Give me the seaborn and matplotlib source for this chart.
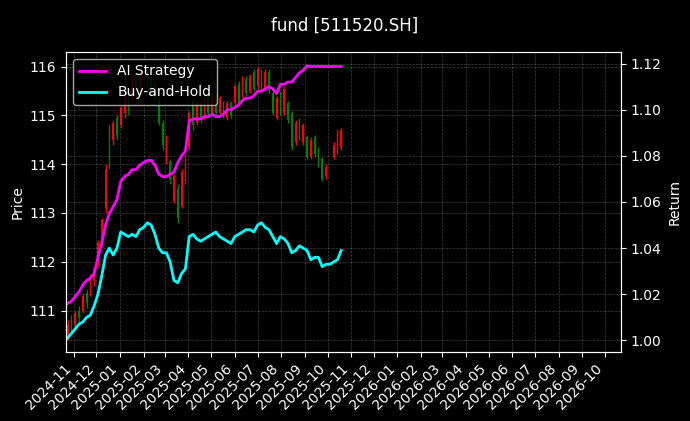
import matplotlib
matplotlib.use('Agg')
import matplotlib.pyplot as plt
import matplotlib.dates as mdates
import numpy as np
import pandas as pd
import seaborn as sns

nan = np.nan

# candles, one every 5 calendar days starting 2024-10-24 (nan = holiday)
price_open = [
    110.45, 110.75, 110.70, 111.00, 111.00, 111.35, 111.35, 111.60, 111.95, 112.45,
    113.10, 114.70, 114.50, 114.95, 114.80, 115.05, 115.45, 115.35, 115.85, 115.45,
    nan, 115.90, 115.80, 115.65, 115.35, 114.85, 114.10, 114.05, 113.25, 113.50,
    113.15, 113.65, 114.35, 115.30, 114.85, 115.25, 114.95, 115.35, 115.05, 115.40,
    115.05, 115.25, 114.95, 115.25, 115.25, 115.65, 115.40, 115.75, 115.50, 115.90,
    115.60, 115.90, 115.55, 115.90, 115.45, 114.95, 115.45, 115.05, 115.25, 115.05,
    114.45, 114.90, 114.45, 114.55, 114.15, 114.55, 114.30, 114.10, 113.75, nan,
    114.15, 114.25, 114.35]
price_close = [
    110.70, 110.60, 110.95, 110.85, 111.30, 111.15, 111.70, 111.85, 112.40, 112.85,
    113.90, 114.00, 114.85, 114.60, 115.15, 115.40, 115.10, 115.75, 115.50, 115.80,
    nan, 115.60, 115.50, 115.35, 114.85, 114.40, 114.50, 113.70, 113.75, 112.90,
    113.85, 114.15, 115.05, 114.80, 115.25, 114.90, 115.30, 115.05, 115.40, 115.05,
    115.35, 115.00, 115.25, 115.00, 115.60, 115.25, 115.75, 115.45, 115.80, 115.55,
    115.95, 115.55, 115.90, 115.50, 115.05, 115.35, 115.05, 115.55, 114.90, 114.35,
    114.85, 114.55, 114.80, 114.15, 114.50, 114.20, 114.00, 113.70, 113.95, nan,
    114.40, 114.65, 114.70]
price_high = [
    110.80, 110.90, 111.00, 111.10, 111.35, 111.45, 111.75, 111.90, 112.45, 112.90,
    114.00, 114.80, 114.90, 115.00, 115.20, 115.45, 115.50, 115.80, 115.90, 115.90,
    nan, 116.00, 115.90, 115.70, 115.40, 114.90, 114.60, 114.10, 113.80, 113.60,
    113.90, 114.20, 115.10, 115.35, 115.30, 115.30, 115.35, 115.40, 115.45, 115.45,
    115.40, 115.30, 115.30, 115.30, 115.65, 115.70, 115.80, 115.80, 115.85, 115.95,
    116.00, 115.95, 115.95, 115.95, 115.50, 115.40, 115.50, 115.60, 115.30, 115.10,
    114.90, 114.95, 114.85, 114.60, 114.55, 114.60, 114.35, 114.15, 114.00, nan,
    114.45, 114.70, 114.75]
price_low = [
    110.40, 110.50, 110.65, 110.75, 110.95, 111.05, 111.30, 111.50, 111.90, 112.40,
    113.00, 113.90, 114.40, 114.50, 114.75, 114.95, 115.00, 115.30, 115.40, 115.40,
    nan, 115.50, 115.40, 115.30, 114.80, 114.30, 114.00, 113.60, 113.20, 112.80,
    113.10, 113.60, 114.30, 114.70, 114.80, 114.85, 114.90, 115.00, 115.00, 115.00,
    115.00, 114.95, 114.90, 114.95, 115.20, 115.20, 115.35, 115.40, 115.45, 115.50,
    115.55, 115.50, 115.50, 115.45, 115.00, 114.90, 115.00, 115.00, 114.85, 114.30,
    114.40, 114.50, 114.40, 114.10, 114.10, 114.15, 113.95, 113.65, 113.70, nan,
    114.10, 114.20, 114.30]

# cumulative returns on the same dates
ai_strategy = [
    1.016, 1.017, 1.019, 1.021, 1.024, 1.026, 1.027, 1.029, 1.036, 1.042,
    1.050, 1.055, 1.058, 1.061, 1.069, 1.071, 1.072, 1.074, 1.074, 1.076,
    1.077, 1.078, 1.078, 1.076, 1.072, 1.071, 1.071, 1.072, 1.073, 1.077,
    1.080, 1.082, 1.095, 1.096, 1.096, 1.096, 1.097, 1.097, 1.098, 1.097,
    1.097, 1.098, 1.100, 1.100, 1.101, 1.102, 1.104, 1.105, 1.105, 1.106,
    1.108, 1.108, 1.109, 1.110, 1.109, 1.107, 1.111, 1.111, 1.112, 1.112,
    1.114, 1.116, 1.117, 1.119, 1.1187, 1.1187, 1.1187, 1.1187, 1.1187, 1.1187,
    1.1187, 1.1187, 1.1187]
buy_hold = [
    1.001, 1.003, 1.005, 1.007, 1.008, 1.010, 1.011, 1.015, 1.020, 1.028,
    1.037, 1.040, 1.037, 1.040, 1.047, 1.046, 1.045, 1.046, 1.045, 1.048,
    1.049, 1.051, 1.050, 1.046, 1.040, 1.038, 1.038, 1.034, 1.026, 1.025,
    1.029, 1.031, 1.045, 1.046, 1.044, 1.043, 1.044, 1.045, 1.046, 1.047,
    1.045, 1.044, 1.043, 1.042, 1.045, 1.046, 1.047, 1.048, 1.048, 1.047,
    1.050, 1.051, 1.049, 1.048, 1.045, 1.042, 1.045, 1.044, 1.042, 1.038,
    1.039, 1.041, 1.040, 1.039, 1.035, 1.036, 1.036, 1.032, 1.033, 1.033,
    1.034, 1.035, 1.039]

dates = pd.date_range('2024-10-24', periods=len(ai_strategy), freq='5D')

plt.style.use('dark_background')
fig, ax = plt.subplots(figsize=(6.9, 4.21), dpi=100)
fig.subplots_adjust(left=0.0957, right=0.9, top=0.8765, bottom=0.1639)

# candles: red = up, green = down
o = np.array(price_open)
c = np.array(price_close)
colors = np.where(c >= o, 'red', 'green')
ax.vlines(dates, price_low, price_high, colors=colors, linewidth=1)
ax.bar(dates, c - o, bottom=o, width=2, color=colors)

ax2 = ax.twinx()
df = pd.DataFrame({'date': dates, 'AI Strategy': ai_strategy, 'Buy-and-Hold': buy_hold})
sns.lineplot(data=df, x='date', y='AI Strategy', ax=ax2, color='magenta', linewidth=2, label='AI Strategy')
sns.lineplot(data=df, x='date', y='Buy-and-Hold', ax=ax2, color='cyan', linewidth=2, label='Buy-and-Hold')
ax2.legend(loc='upper left')

ax.set_ylabel('Price')
ax2.set_ylabel('Return')
ax.set_xlabel('')
ax2.set_xlabel('')
ax.set_ylim(110.15, 116.3)
ax2.set_ylim(0.995, 1.125)

ax.grid(True, color='gray', linestyle='--', linewidth=0.5, alpha=0.5)
ax2.grid(True, axis='y', color='gray', linestyle='--', linewidth=0.5, alpha=0.5)

ax.xaxis.set_major_locator(mdates.MonthLocator())
ax.xaxis.set_major_formatter(mdates.DateFormatter('%Y-%m'))
ax.set_xlim(pd.Timestamp('2024-10-22'), pd.Timestamp('2026-10-22'))
plt.setp(ax.get_xticklabels(), rotation=45, ha='right')

fig.suptitle('fund [511520.SH]', fontsize=12, y=0.96)
fig.savefig('out.png', dpi=100)
